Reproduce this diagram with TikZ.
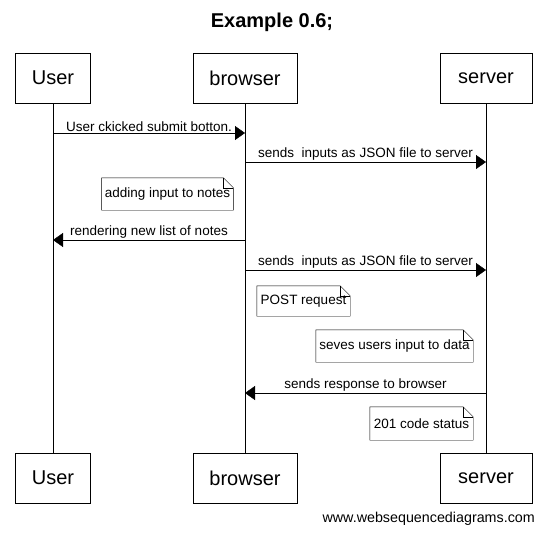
\documentclass[tikz,border=0pt]{standalone}
\usepackage{fontspec}
\setmainfont{Liberation Sans}
\usetikzlibrary{positioning,calc,arrows.meta}

\begin{document}
\begin{tikzpicture}[x=1pt,y=-1pt]
\tikzset{actor/.style={draw,minimum height=50pt,font=\fontsize{20}{24}\selectfont},
  msg/.style={-{Triangle[length=10pt,width=14pt]}},
  lbl/.style={midway,above,inner sep=1.5pt,font=\fontsize{13.5}{16}\selectfont},
  notebox/.style={inner xsep=3pt,minimum height=32pt,font=\fontsize{13.5}{16}\selectfont}};
   \useasboundingbox (0,0) rectangle (545,536);
   \node[font=\bfseries\fontsize{20}{24}\selectfont] (title) at (272,22) {Example 0.6;};

   % participants, top and bottom
   \node[actor,minimum width=75pt] (U) at (53,78) {User};
   \node[actor,minimum width=104pt] (B) at (245,78) {browser};
   \node[actor,minimum width=92pt] (S) at (486,78) {server};
   \node[actor,minimum width=75pt] (U2) at (53,478) {User};
   \node[actor,minimum width=104pt] (B2) at (245,478) {browser};
   \node[actor,minimum width=92pt] (S2) at (486,478) {server};
   \foreach \p in {U,B,S} \draw (\p) -- (\p2);

   % messages
   \coordinate (m1a) at (53,133);  \coordinate (m1b) at (245,133);
   \coordinate (m2a) at (245,162); \coordinate (m2b) at (486,162);
   \coordinate (m3a) at (245,240); \coordinate (m3b) at (53,240);
   \coordinate (m4a) at (245,270); \coordinate (m4b) at (486,270);
   \coordinate (m5a) at (486,393); \coordinate (m5b) at (245,393);
   \draw[msg] (m1a) -- (m1b) node[lbl] {User ckicked submit botton.};
   \draw[msg] (m2a) -- (m2b) node[lbl] {sends\ \ inputs as JSON file to server};
   \draw[msg] (m3a) -- (m3b) node[lbl] {rendering new list of notes};
   \draw[msg] (m4a) -- (m4b) node[lbl] {sends\ \ inputs as JSON file to server};
   \draw[msg] (m5a) -- (m5b) node[lbl] {sends response to browser};

   % notes
   \node[notebox,minimum width=131pt] (n1) at (167.5,194) {adding input to notes};
   \node[notebox,minimum width=93pt,minimum height=30pt] (n2) at (303.5,301) {POST request};
   \node[notebox,minimum width=157pt] (n3) at (394.5,346) {seves users input to data};
   \node[notebox,minimum width=103pt,minimum height=33pt] (n4) at (421.5,423.5) {201 code status};
   \foreach \n in {n1,n2,n3,n4} {
     \draw (\n.north west) -- ([xshift=-10pt]\n.north east) -- ([yshift=-10pt]\n.north east)
       -- (\n.south east) -- (\n.south west) -- cycle;
     \draw ([xshift=-10pt]\n.north east) -- ([xshift=-10pt,yshift=-10pt]\n.north east)
       -- ([yshift=-10pt]\n.north east);
   }

   \node[anchor=south east,inner sep=0pt,font=\fontsize{14.3}{17}\selectfont] (web) at (535,526) {www.websequencediagrams.com};
\end{tikzpicture}
\end{document}
